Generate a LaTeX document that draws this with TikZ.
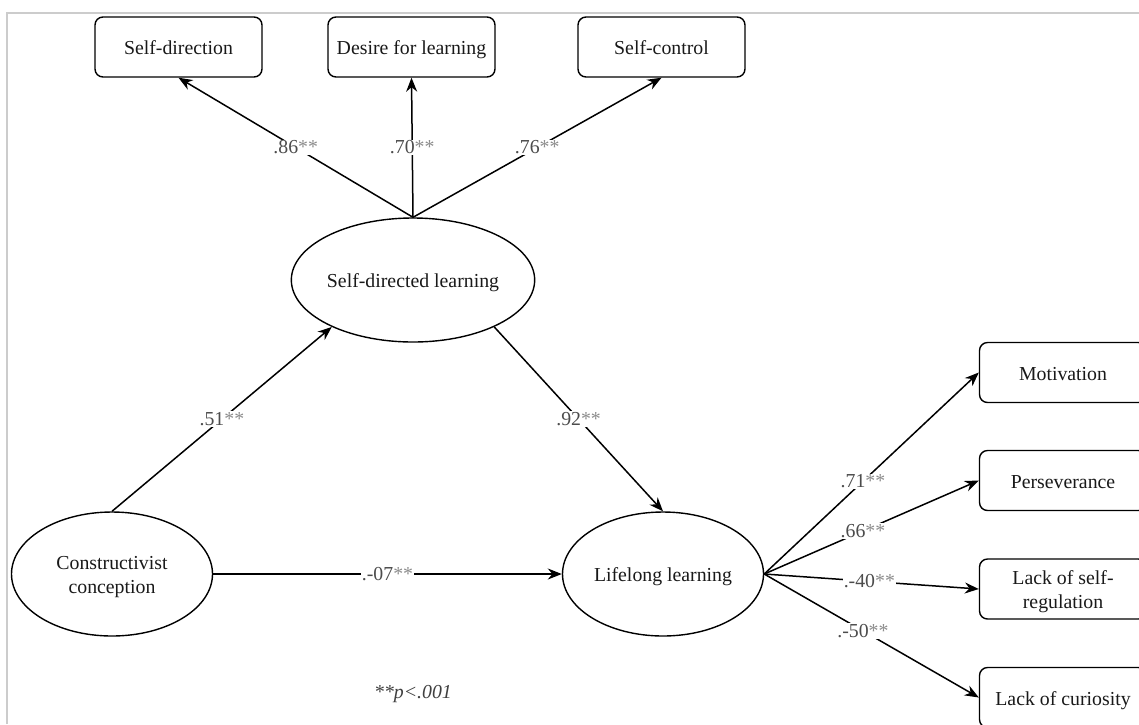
\documentclass[tikz,border=0pt]{standalone}
\usepackage{fontspec}
\setmainfont{Liberation Serif}
\usetikzlibrary{arrows.meta, positioning, shapes.geometric}
\newcommand{\stars}{\textcolor{black!45}{**}}

\begin{document}
\begin{tikzpicture}[
    x=1pt, y=-1pt,
    font=\fontsize{19.8}{23.4}\selectfont,
    indicator/.style={
        draw, rounded corners=8pt, line width=1.4pt,
        minimum width=167pt, minimum height=60pt,
        align=center, inner sep=2pt, text=black!90,
        text height=17pt, text depth=1.5pt
    },
    latent/.style={
        draw, ellipse, line width=1.4pt,
        minimum width=201pt, minimum height=124pt,
        align=center, inner sep=0pt, text=black!90,
        text height=17pt, text depth=1.5pt
    },
    twolines/.style={
        text height=39.5pt, text depth=1.5pt
    },
    arrow/.style={
        -{Stealth[length=14pt, width=11pt]}, line width=1.5pt
    },
    coef/.style={
        fill=white, inner sep=1pt, text=black!70
    }
]
\clip (0,0) rectangle (1139,724);

% --- frame ---
\draw[black!20, line width=1.5pt] (7,724) -- (7,13) -- (1139,13);

% --- latent variables ---
\node[latent] (sdl) at (413,280) {Self-directed learning};
\node[latent, twolines] (cc) at (112,574) {Constructivist\\conception};
\node[latent] (ll)  at (663,574) {Lifelong learning};

% --- indicators of self-directed learning ---
\node[indicator] (sdir) at (178.5,47) {Self-direction};
\node[indicator] (desire) at (411.5,47) {Desire for learning};
\node[indicator] (sctrl) at (661.5,47) {Self-control};

% --- indicators of lifelong learning (cut at the right edge) ---
\node[indicator] (motiv) at (1063,372.5) {Motivation};
\node[indicator] (perse) at (1063,480.5) {Perseverance};
\node[indicator, twolines] (lsreg) at (1063,589) {Lack of self-\\regulation};
\node[indicator] (lcur)  at (1063,697.5) {Lack of curiosity};

% --- loadings ---
\draw[arrow] (sdl.north) -- node[coef]{.86\stars} (sdir.south);
\draw[arrow] (sdl.north) -- node[coef]{.70\stars} (desire.south);
\draw[arrow] (sdl.north) -- node[coef]{.76\stars} (sctrl.south);

\draw[arrow] (ll.east) -- node[coef, pos=0.46]{.71\stars} (motiv.west);
\draw[arrow] (ll.east) -- node[coef, pos=0.46]{.66\stars} (perse.west);
\draw[arrow] (ll.east) -- node[coef, pos=0.49]{.-40\stars} (lsreg.west);
\draw[arrow] (ll.east) -- node[coef, pos=0.46]{.-50\stars} (lcur.west);

% --- structural paths ---
\draw[arrow] (cc.north) -- node[coef]{.51\stars} (sdl.210);
\draw[arrow] (sdl.330) -- node[coef]{.92\stars} (ll.north);
\draw[arrow] (cc.east) -- node[coef]{.-07\stars} (ll.west);

% --- note ---
\node[text=black!75] (note) at (413,694) {\textit{**p<.001}};

\end{tikzpicture}
\end{document}
